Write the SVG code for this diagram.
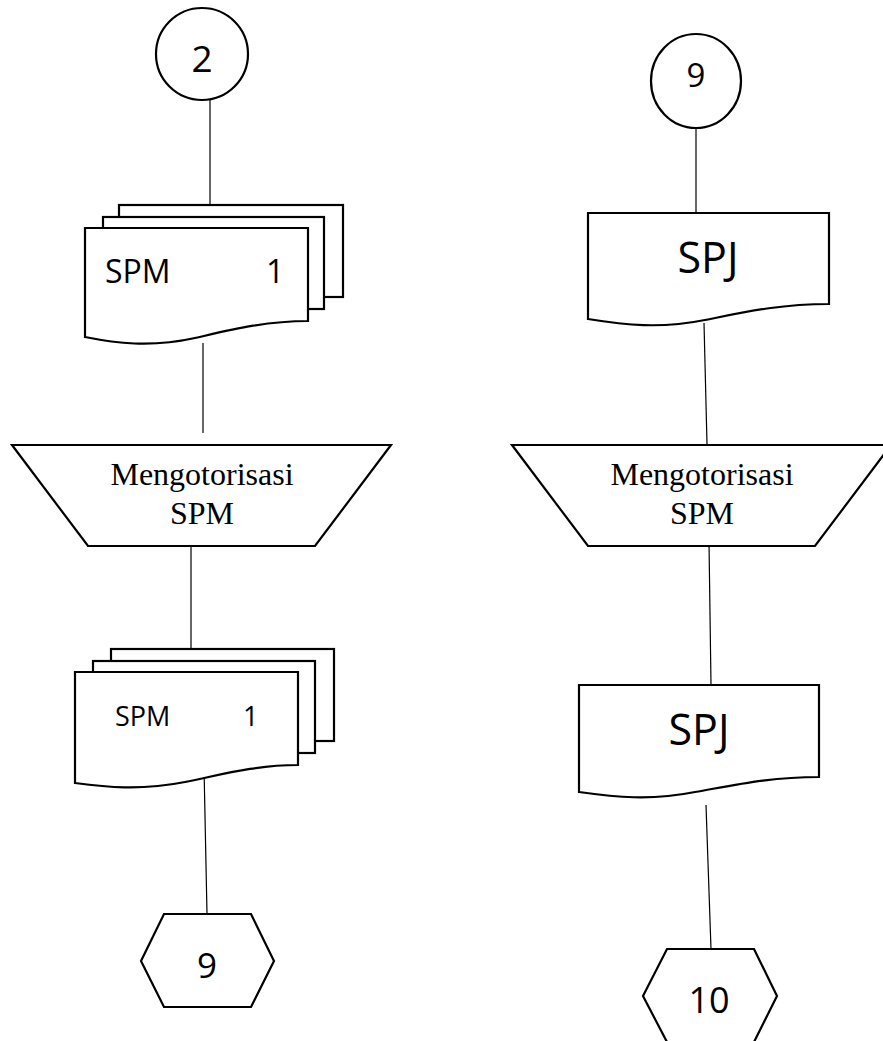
<svg xmlns="http://www.w3.org/2000/svg" width="883" height="1041" viewBox="0 0 883 1041">
  <style>
    .shape { fill: #ffffff; stroke: #000000; stroke-width: 2.2; stroke-linejoin: miter; }
    .link { stroke: #000000; stroke-width: 1.2; fill: none; }
    .sans { font-family: "Open Sans", "Liberation Sans", sans-serif; fill: #000000; }
    .serif { font-family: "Liberation Serif", "Times New Roman", serif; font-size: 32px; fill: #000000; text-anchor: middle; }
  </style>
  <rect width="883" height="1041" fill="#ffffff"/>

  <!-- connectors -->
  <g id="connectors">
    <line class="link" x1="210" y1="100" x2="210" y2="205"/>
    <line class="link" x1="203" y1="343" x2="203" y2="433"/>
    <line class="link" x1="191" y1="546" x2="191" y2="649"/>
    <line class="link" x1="204" y1="767" x2="207" y2="914"/>
    <line class="link" x1="696" y1="128" x2="696" y2="213"/>
    <line class="link" x1="704" y1="323" x2="707" y2="444"/>
    <line class="link" x1="709" y1="542" x2="711" y2="685"/>
    <line class="link" x1="706" y1="805" x2="711" y2="949"/>
  </g>

  <!-- left column -->
  <g id="connector-2">
    <ellipse class="shape" cx="202" cy="54" rx="46" ry="46"/>
    <text class="sans" x="202" y="72" font-size="37" text-anchor="middle">2</text>
  </g>

  <g id="spm-stack-1">
    <rect class="shape" x="119" y="205" width="224" height="92"/>
    <rect class="shape" x="103" y="217" width="221" height="92"/>
    <path class="shape" d="M85,228 H308 V321 C265,321 230,330 195,338 C150,348 115,343 85,337 Z"/>
    <text class="sans" x="105" y="283" font-size="32">SPM</text>
    <text class="sans" x="266" y="283" font-size="32">1</text>
  </g>

  <g id="authorize-spm-left">
    <polygon class="shape" points="12,445 391,445 315,546 88,546"/>
    <text class="serif" x="202" y="485">Mengotorisasi</text>
    <text class="serif" x="202" y="524">SPM</text>
  </g>

  <g id="spm-stack-2">
    <rect class="shape" x="111" y="649" width="223" height="92"/>
    <rect class="shape" x="93" y="661" width="222" height="92"/>
    <path class="shape" d="M75,672 H298 V765 C255,765 220,775 185,782 C140,791 105,787 75,783 Z"/>
    <text class="sans" x="115" y="726" font-size="27">SPM</text>
    <text class="sans" x="243" y="726" font-size="27">1</text>
  </g>

  <g id="offpage-9">
    <polygon class="shape" points="164,914 251,914 274,961 251,1007 164,1007 141,961"/>
    <text class="sans" x="207" y="978" font-size="35" text-anchor="middle">9</text>
  </g>

  <!-- right column -->
  <g id="connector-9">
    <ellipse class="shape" cx="696" cy="81" rx="45" ry="47"/>
    <text class="sans" x="696" y="87" font-size="33" text-anchor="middle">9</text>
  </g>

  <g id="spj-1">
    <path class="shape" d="M588,213 H829 V304 C780,304 745,312 705,320 C660,329 625,325 588,319 Z"/>
    <text class="sans" x="708" y="273" font-size="43" text-anchor="middle">SPJ</text>
  </g>

  <g id="authorize-spm-right">
    <polygon class="shape" points="512,445 891,445 815,546 588,546"/>
    <text class="serif" x="702" y="485">Mengotorisasi</text>
    <text class="serif" x="702" y="524">SPM</text>
  </g>

  <g id="spj-2">
    <path class="shape" d="M579,685 H819 V777 C770,777 735,785 695,792 C650,801 615,797 579,792 Z"/>
    <text class="sans" x="699" y="745" font-size="43" text-anchor="middle">SPJ</text>
  </g>

  <g id="offpage-10">
    <polygon class="shape" points="667,949 754,949 777,996 754,1042 667,1042 643,996"/>
    <text class="sans" x="709" y="1013" font-size="36" text-anchor="middle">10</text>
  </g>
</svg>
